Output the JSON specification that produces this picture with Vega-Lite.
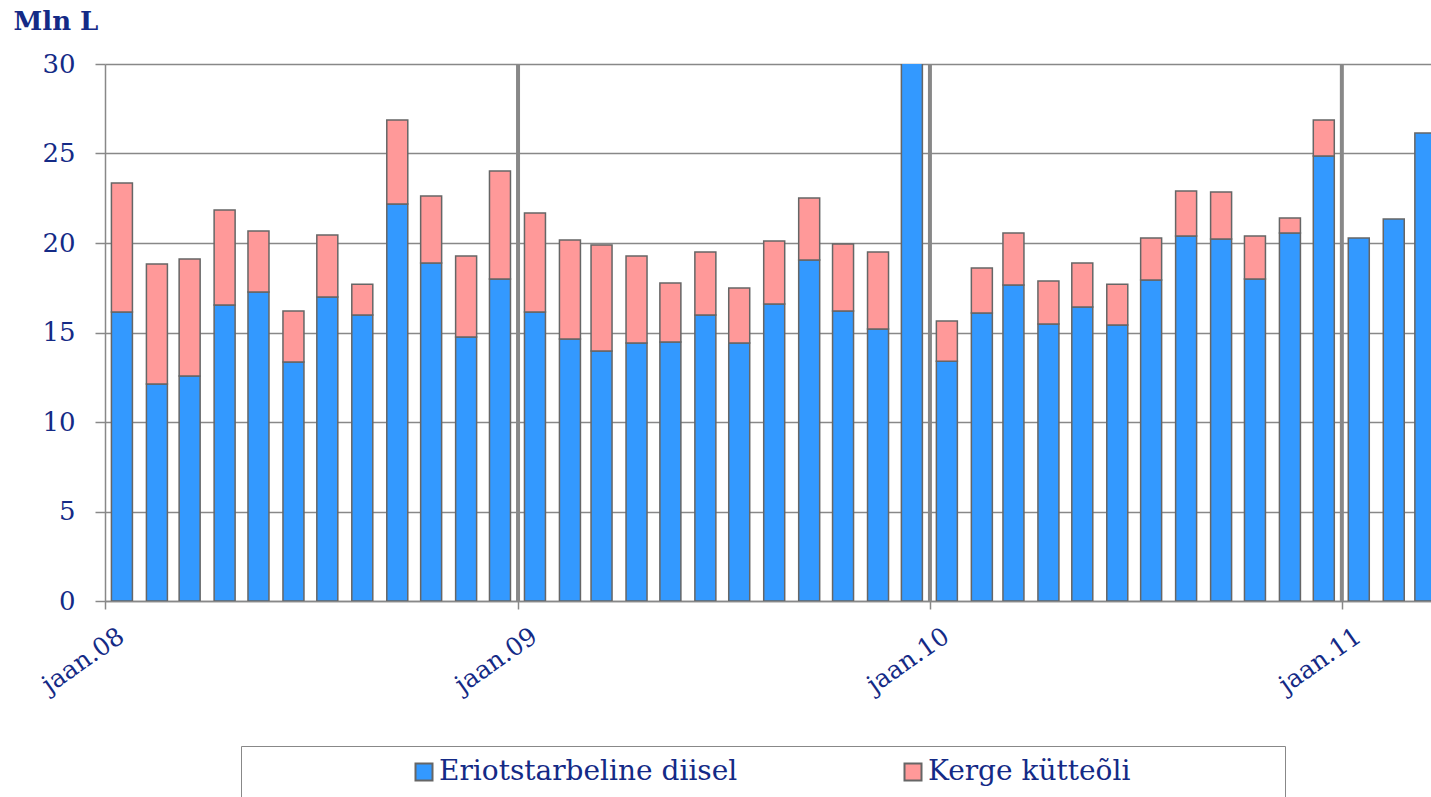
{
  "$schema": "https://vega.github.io/schema/vega-lite/v6.json",
  "width": 1326,
  "height": 537,
  "autosize": {"type": "none"},
  "padding": {"left": 105, "top": 64, "right": 0, "bottom": 196},
  "background": "white",
  "config": {"view": {"stroke": null}, "font": "DejaVu Serif"},
  "datasets": {
    "years": [{"month": "2009-01-01"}, {"month": "2010-01-01"}, {"month": "2011-01-01"}],
    "fuel": [
      {"month": "2008-01-16", "series": "Eriotstarbeline diisel", "value": 16.15},
      {"month": "2008-01-16", "series": "Kerge kütteõli", "value": 7.2},
      {"month": "2008-02-16", "series": "Eriotstarbeline diisel", "value": 12.12},
      {"month": "2008-02-16", "series": "Kerge kütteõli", "value": 6.71},
      {"month": "2008-03-16", "series": "Eriotstarbeline diisel", "value": 12.57},
      {"month": "2008-03-16", "series": "Kerge kütteõli", "value": 6.53},
      {"month": "2008-04-16", "series": "Eriotstarbeline diisel", "value": 16.54},
      {"month": "2008-04-16", "series": "Kerge kütteõli", "value": 5.3},
      {"month": "2008-05-16", "series": "Eriotstarbeline diisel", "value": 17.26},
      {"month": "2008-05-16", "series": "Kerge kütteõli", "value": 3.41},
      {"month": "2008-06-16", "series": "Eriotstarbeline diisel", "value": 13.35},
      {"month": "2008-06-16", "series": "Kerge kütteõli", "value": 2.85},
      {"month": "2008-07-16", "series": "Eriotstarbeline diisel", "value": 16.98},
      {"month": "2008-07-16", "series": "Kerge kütteõli", "value": 3.47},
      {"month": "2008-08-16", "series": "Eriotstarbeline diisel", "value": 15.98},
      {"month": "2008-08-16", "series": "Kerge kütteõli", "value": 1.72},
      {"month": "2008-09-16", "series": "Eriotstarbeline diisel", "value": 22.18},
      {"month": "2008-09-16", "series": "Kerge kütteõli", "value": 4.69},
      {"month": "2008-10-16", "series": "Eriotstarbeline diisel", "value": 18.88},
      {"month": "2008-10-16", "series": "Kerge kütteõli", "value": 3.75},
      {"month": "2008-11-16", "series": "Eriotstarbeline diisel", "value": 14.75},
      {"month": "2008-11-16", "series": "Kerge kütteõli", "value": 4.52},
      {"month": "2008-12-16", "series": "Eriotstarbeline diisel", "value": 17.99},
      {"month": "2008-12-16", "series": "Kerge kütteõli", "value": 6.03},
      {"month": "2009-01-16", "series": "Eriotstarbeline diisel", "value": 16.15},
      {"month": "2009-01-16", "series": "Kerge kütteõli", "value": 5.53},
      {"month": "2009-02-16", "series": "Eriotstarbeline diisel", "value": 14.64},
      {"month": "2009-02-16", "series": "Kerge kütteõli", "value": 5.53},
      {"month": "2009-03-16", "series": "Eriotstarbeline diisel", "value": 13.97},
      {"month": "2009-03-16", "series": "Kerge kütteõli", "value": 5.92},
      {"month": "2009-04-16", "series": "Eriotstarbeline diisel", "value": 14.41},
      {"month": "2009-04-16", "series": "Kerge kütteõli", "value": 4.86},
      {"month": "2009-05-16", "series": "Eriotstarbeline diisel", "value": 14.47},
      {"month": "2009-05-16", "series": "Kerge kütteõli", "value": 3.3},
      {"month": "2009-06-16", "series": "Eriotstarbeline diisel", "value": 15.98},
      {"month": "2009-06-16", "series": "Kerge kütteõli", "value": 3.52},
      {"month": "2009-07-16", "series": "Eriotstarbeline diisel", "value": 14.41},
      {"month": "2009-07-16", "series": "Kerge kütteõli", "value": 3.08},
      {"month": "2009-08-16", "series": "Eriotstarbeline diisel", "value": 16.59},
      {"month": "2009-08-16", "series": "Kerge kütteõli", "value": 3.52},
      {"month": "2009-09-16", "series": "Eriotstarbeline diisel", "value": 19.05},
      {"month": "2009-09-16", "series": "Kerge kütteõli", "value": 3.46},
      {"month": "2009-10-16", "series": "Eriotstarbeline diisel", "value": 16.2},
      {"month": "2009-10-16", "series": "Kerge kütteõli", "value": 3.74},
      {"month": "2009-11-16", "series": "Eriotstarbeline diisel", "value": 15.2},
      {"month": "2009-11-16", "series": "Kerge kütteõli", "value": 4.3},
      {"month": "2009-12-16", "series": "Eriotstarbeline diisel", "value": 32.0},
      {"month": "2009-12-16", "series": "Kerge kütteõli", "value": 1.5},
      {"month": "2010-01-16", "series": "Eriotstarbeline diisel", "value": 13.4},
      {"month": "2010-01-16", "series": "Kerge kütteõli", "value": 2.24},
      {"month": "2010-02-16", "series": "Eriotstarbeline diisel", "value": 16.09},
      {"month": "2010-02-16", "series": "Kerge kütteõli", "value": 2.51},
      {"month": "2010-03-16", "series": "Eriotstarbeline diisel", "value": 17.65},
      {"month": "2010-03-16", "series": "Kerge kütteõli", "value": 2.91},
      {"month": "2010-04-16", "series": "Eriotstarbeline diisel", "value": 15.47},
      {"month": "2010-04-16", "series": "Kerge kütteõli", "value": 2.41},
      {"month": "2010-05-16", "series": "Eriotstarbeline diisel", "value": 16.42},
      {"month": "2010-05-16", "series": "Kerge kütteõli", "value": 2.46},
      {"month": "2010-06-16", "series": "Eriotstarbeline diisel", "value": 15.42},
      {"month": "2010-06-16", "series": "Kerge kütteõli", "value": 2.28},
      {"month": "2010-07-16", "series": "Eriotstarbeline diisel", "value": 17.93},
      {"month": "2010-07-16", "series": "Kerge kütteõli", "value": 2.35},
      {"month": "2010-08-16", "series": "Eriotstarbeline diisel", "value": 20.39},
      {"month": "2010-08-16", "series": "Kerge kütteõli", "value": 2.51},
      {"month": "2010-09-16", "series": "Eriotstarbeline diisel", "value": 20.22},
      {"month": "2010-09-16", "series": "Kerge kütteõli", "value": 2.63},
      {"month": "2010-10-16", "series": "Eriotstarbeline diisel", "value": 17.99},
      {"month": "2010-10-16", "series": "Kerge kütteõli", "value": 2.4},
      {"month": "2010-11-16", "series": "Eriotstarbeline diisel", "value": 20.56},
      {"month": "2010-11-16", "series": "Kerge kütteõli", "value": 0.84},
      {"month": "2010-12-16", "series": "Eriotstarbeline diisel", "value": 24.86},
      {"month": "2010-12-16", "series": "Kerge kütteõli", "value": 2.01},
      {"month": "2011-01-16", "series": "Eriotstarbeline diisel", "value": 20.28},
      {"month": "2011-02-16", "series": "Eriotstarbeline diisel", "value": 21.34},
      {"month": "2011-03-16", "series": "Eriotstarbeline diisel", "value": 26.15}
    ]
  },
  "encoding": {
    "x": {
      "field": "month",
      "type": "temporal",
      "scale": {
        "type": "utc",
        "padding": 0,
        "nice": false,
        "domain": [
          {"year": 2008, "month": 1, "date": 1, "utc": true},
          {"year": 2011, "month": 3, "date": 21, "utc": true}
        ]
      },
      "axis": {
        "title": null,
        "grid": false,
        "values": [
          {"year": 2008, "month": 1, "date": 1, "utc": true},
          {"year": 2009, "month": 1, "date": 1, "utc": true},
          {"year": 2010, "month": 1, "date": 1, "utc": true},
          {"year": 2011, "month": 1, "date": 1, "utc": true}
        ],
        "labelExpr": "'jaan.' + utcFormat(datum.value, '%y')",
        "labelAngle": -35,
        "labelAlign": "right",
        "labelBaseline": "middle",
        "labelOffset": 16,
        "labelPadding": 24,
        "labelFont": "DejaVu Serif",
        "labelFontSize": 25,
        "labelColor": "#142a86",
        "labelOverlap": false,
        "labelFlush": false,
        "domainColor": "#888888",
        "domainWidth": 1.5,
        "tickColor": "#888888",
        "tickWidth": 1.5,
        "tickSize": 8
      }
    }
  },
  "layer": [
    {
      "data": {"name": "years"},
      "mark": {"type": "rule", "color": "#888888", "strokeWidth": 4},
      "encoding": {}
    },
    {
      "data": {"name": "fuel"},
      "mark": {"type": "bar", "width": 21, "stroke": "#666666", "strokeWidth": 1.5, "clip": true},
      "encoding": {
        "y": {
          "field": "value",
          "type": "quantitative",
          "stack": "zero",
          "scale": {"domain": [0, 30], "nice": false},
          "axis": {
            "values": [0, 5, 10, 15, 20, 25, 30],
            "grid": true,
            "gridColor": "#888888",
            "gridWidth": 1.3,
            "domainColor": "#888888",
            "domainWidth": 1.5,
            "tickColor": "#888888",
            "tickWidth": 1.5,
            "tickSize": 10,
            "labelPadding": 20,
            "labelFont": "DejaVu Serif",
            "labelFontSize": 26,
            "labelColor": "#142a86",
            "title": "Mln L",
            "titleAngle": 0,
            "titleAlign": "left",
            "titleBaseline": "top",
            "titleX": -92,
            "titleY": -56,
            "titleFont": "DejaVu Serif",
            "titleFontSize": 26,
            "titleFontWeight": "bold",
            "titleColor": "#142a86"
          }
        },
        "order": {"field": "series", "type": "nominal", "sort": "ascending"},
        "color": {
          "field": "series",
          "type": "nominal",
          "scale": {
            "domain": ["Eriotstarbeline diisel", "Kerge kütteõli"],
            "range": ["#3399ff", "#ff9999"]
          },
          "legend": {
            "orient": "none",
            "legendX": 136,
            "legendY": 682,
            "direction": "horizontal",
            "title": " ",
            "titleOrient": "right",
            "titlePadding": 143,
            "titleFontSize": 4,
            "symbolType": "square",
            "symbolSize": 289,
            "symbolStrokeColor": "#666666",
            "symbolStrokeWidth": 2,
            "symbolOpacity": 1,
            "symbolOffset": 157,
            "columnPadding": 4,
            "labelOffset": 1,
            "labelFont": "DejaVu Serif",
            "labelFontSize": 28,
            "labelColor": "#142a86",
            "labelLimit": 500,
            "strokeColor": "#888888",
            "fillColor": "white",
            "padding": 12
          }
        }
      }
    }
  ]
}
